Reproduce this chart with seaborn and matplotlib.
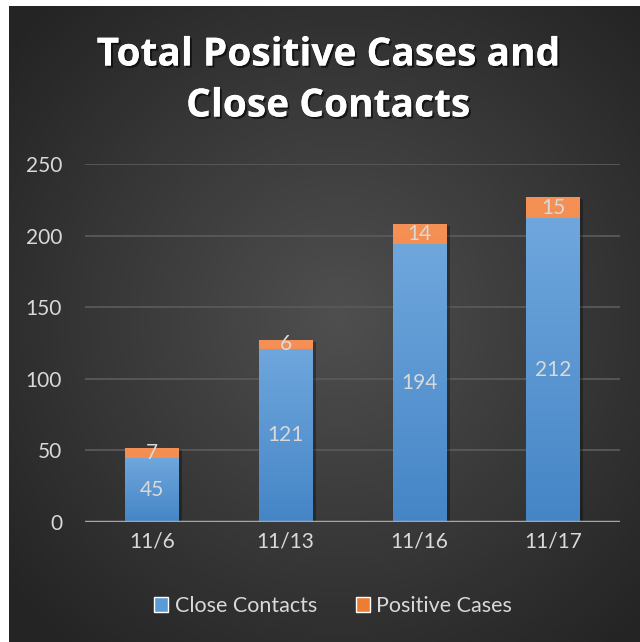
import numpy as np
import pandas as pd
import matplotlib
matplotlib.use('Agg')
import matplotlib.pyplot as plt
import matplotlib.patheffects as pe
from matplotlib.colors import LinearSegmentedColormap
from matplotlib.patches import Patch
import seaborn as sns

dates = ['11/6', '11/13', '11/16', '11/17']
close_contacts = [45, 121, 194, 212]
positive_cases = [7, 6, 14, 15]
series_names = ['Close Contacts', 'Positive Cases']

BLUE = '#5b9bd5'
ORANGE = '#ed7d31'
TEXT = '#d9d9d9'

sns.set_theme(style='dark')
plt.rcParams['font.family'] = ['Lato', 'DejaVu Sans']

fig = plt.figure(figsize=(6.4, 6.42), dpi=100)
fig.patch.set_facecolor('white')

# dark radial background panel
bg = fig.add_axes([9 / 640, 0, 631 / 640, 636 / 642])
yy, xx = np.mgrid[0:636, 0:631]
r = np.clip(np.hypot((xx - 330) / 430, (yy - 310) / 430), 0, 1)
bg_cmap = LinearSegmentedColormap.from_list('bg', ['#4f4f4f', '#242424'])
bg.imshow(r, cmap=bg_cmap, aspect='auto', extent=[0, 1, 0, 1], vmin=0, vmax=1)
bg.set_axis_off()

ax = fig.add_axes([85 / 640, 120 / 642, 535 / 640, 358 / 642])
ax.set_facecolor('none')

df = pd.DataFrame({'date': dates, 'close': close_contacts, 'positive': positive_cases})
df['total'] = df['close'] + df['positive']

sns.barplot(data=df, x='date', y='total', color=ORANGE, width=0.4, saturation=1,
            linewidth=0, ax=ax, zorder=3)
sns.barplot(data=df, x='date', y='close', color=BLUE, width=0.4, saturation=1,
            linewidth=0, ax=ax, zorder=3)

# vertical gradients clipped to each bar
blue_cmap = LinearSegmentedColormap.from_list('b', ['#4585c6', '#6fa7dd'])
orange_cmap = LinearSegmentedColormap.from_list('o', ['#ef7722', '#f59156'])
grad = np.linspace(0, 1, 256).reshape(-1, 1)
n = len(dates)
for i, p in enumerate(ax.patches):
    cmap = orange_cmap if i < n else blue_cmap
    p.set_edgecolor('none')
    if i < n:
        p.set_path_effects([pe.SimplePatchShadow(offset=(2.5, -1.5), shadow_rgbFace='black', alpha=0.3),
                            pe.Normal()])
    x0, y0 = p.get_x(), p.get_y()
    w, h = p.get_width(), p.get_height()
    im = ax.imshow(grad, cmap=cmap, aspect='auto', origin='lower',
                   extent=[x0, x0 + w, y0, y0 + h], zorder=4)
    im.set_clip_path(p)

ax.set_xlim(-0.5, n - 0.5)
ax.set_ylim(0, 250)

for i, (c, pcs) in enumerate(zip(close_contacts, positive_cases)):
    ax.text(i, c / 2, str(c), ha='center', va='center', color=TEXT, fontsize=15, zorder=6)
    ax.text(i, c + pcs / 2, str(pcs), ha='center', va='center', color=TEXT, fontsize=15, zorder=6)

ax.set_yticks(range(0, 251, 50))
ax.yaxis.grid(True, color='#595959', lw=1.3, zorder=0)
ax.xaxis.grid(False)
ax.axhline(0, color='#a6a6a6', lw=2.5, zorder=5)
for s in ax.spines.values():
    s.set_visible(False)
ax.tick_params(axis='y', colors=TEXT, labelsize=15, length=0, pad=16.5)
ax.tick_params(axis='x', colors=TEXT, labelsize=15, length=0, pad=7)
ax.set_xlabel('')
ax.set_ylabel('')

shadow = [pe.withSimplePatchShadow(offset=(1.5, -1.5), shadow_rgbFace='black', alpha=0.6), pe.Normal()]
title_font = ['Open Sans', 'DejaVu Sans']
fig.text(328 / 640, 1 - 55 / 642, 'Total Positive Cases and', ha='center', va='center',
         fontsize=28, fontweight='bold', color='white', family=title_font, path_effects=shadow)
fig.text(328 / 640, 1 - 106 / 642, 'Close Contacts', ha='center', va='center',
         fontsize=28, fontweight='bold', color='white', family=title_font, path_effects=shadow)

handles = [Patch(facecolor=BLUE), Patch(facecolor=ORANGE)]
leg = fig.legend(handles, series_names, loc='center', bbox_to_anchor=(333 / 640, 36 / 642),
                 ncol=2, frameon=False, fontsize=15.5, handlelength=0.65, handleheight=0.65,
                 handletextpad=0.3, columnspacing=1.8)
for t in leg.get_texts():
    t.set_color(TEXT)

fig.savefig('out.png', dpi=100)
